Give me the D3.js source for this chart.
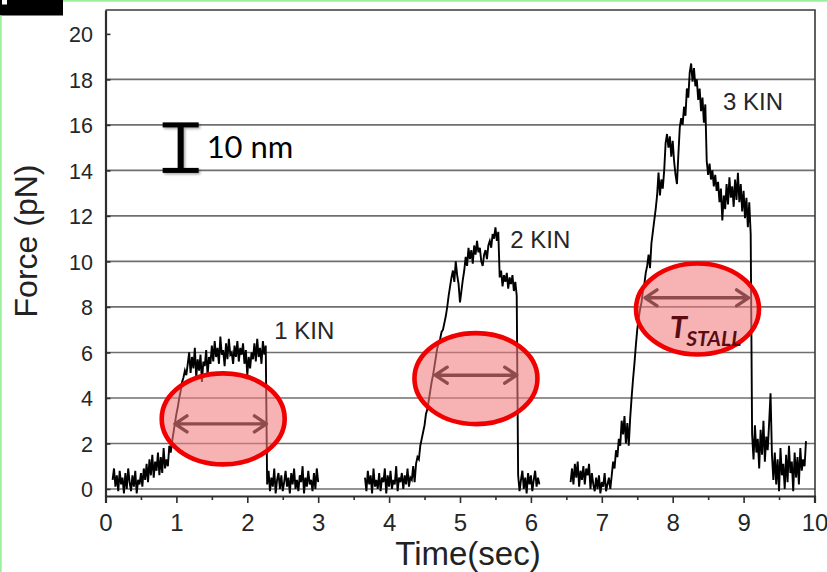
<!DOCTYPE html>
<html>
<head>
<meta charset="utf-8">
<script src="https://cdn.jsdelivr.net/npm/d3@7"></script>
<style>
  html, body { margin: 0; padding: 0; background: #ffffff; }
  svg { display: block; }
</style>
</head>
<body>
<svg id="chart" width="827" height="572"></svg>
<script>
// Optical-trap force traces: bead pulled by one, two and three kinesins (KIN).
// Each trace is sampled every timeStep seconds from its start time.
const timeStep = 0.02;

const trace1Start = 0.10;
const trace1Force = [
  0.4, 0.9, 0.1, 0.6, -0.1, 0.8, 0.2, 0.5, -0.2, 0.7, 0.0, 0.9, 0.3, -0.1, 0.6, 0.1, 0.8, -0.2, 0.4, 0.2, 0.7,
  0.1, 0.9, 0.4, 1.1, 0.3, 1.3, 0.6, 1.5, 0.5, 1.2, 0.8, 1.6, 0.6, 1.4, 0.7, 1.8, 0.9, 1.3, 1.0, 1.9,
  1.6, 2.1,
  2.5, 2.9, 3.3, 3.6, 4.0, 4.3, 4.7, 4.9, 5.2, 5.0, 5.5,
  6.0, 5.1, 5.8, 5.3, 6.2, 4.9, 5.7, 5.2, 5.9, 4.7, 5.6, 5.4, 6.1, 5.0, 5.8, 5.5,
  6.3, 5.6, 6.5, 5.8, 6.2, 5.5, 6.7, 5.9, 6.1, 5.4, 6.4, 5.7, 6.6, 5.9, 6.0, 5.5, 6.3, 5.8, 6.5, 5.6,
  6.2, 5.9, 6.4, 5.5, 6.1, 5.0, 5.8, 5.3, 6.0, 5.7, 6.4, 5.6, 6.6, 5.8, 6.2, 5.5, 6.5, 5.9, 6.3,
  0.2, 0.8, -0.1, 0.5, 0.1, 0.9, -0.2, 0.4, 0.7, 0.0, 0.6, -0.1, 0.3, 0.8, 0.1, 0.5, -0.2, 0.7, 0.2, 0.9,
  0.0, 0.4, -0.1, 0.6, 0.3, 1.0, -0.2, 0.5, 0.1, 0.8, 0.2, 0.4, -0.1, 0.7, 0.0, 0.9, 0.3
];

const trace2Start = 3.66;
const trace2Force = [
  0.5, -0.1, 0.8, 0.2, 0.6, -0.2, 0.9, 0.1, 0.4, 0.0, 0.7, -0.1, 0.5, 0.3, 0.9, -0.2, 0.6, 0.1, 0.8, 0.0,
  0.4, 0.2, 1.0, -0.1, 0.5, 0.3, 0.7, 0.0, 0.6, 0.2, 0.9, 0.1, 0.5, 0.4, 1.0, 0.3,
  1.1, 1.4, 1.3, 1.9, 2.2, 2.5, 2.8, 3.3, 3.5, 3.9, 4.3, 4.7, 5.0, 5.4, 5.8, 6.2, 6.4, 6.6, 6.9, 7.0,
  7.3, 7.6, 8.0, 8.5, 8.9, 9.3,
  9.6, 9.1, 10.0, 9.4, 9.0, 8.2, 8.7, 9.2, 9.6, 10.2, 9.8, 10.6, 10.1, 10.5, 9.9, 10.7, 10.3, 10.9,
  10.4, 10.6, 10.0, 9.8, 10.3, 10.5, 10.1, 10.7, 10.9, 10.6, 11.2, 11.0, 11.5, 10.9, 11.3,
  9.3, 9.6, 8.9, 9.4, 9.1, 9.5, 8.8, 9.3, 9.0, 9.4, 8.7, 9.1, 8.5,
  0.6, -0.1, 0.4, 0.8, 0.0, 0.5, -0.2, 0.7, 0.2, 0.6, -0.1, 0.4, 0.8, 0.1, 0.5, 0.2
];

const trace3Start = 6.56;
const trace3Force = [
  0.3, 0.9, 0.2, 1.1, 0.5, 1.2, 0.1, 0.8, 0.4, 1.0, 0.2, 0.9, 0.6, 1.1, 0.0, 0.7,
  0.2, -0.1, 0.5, 0.0, 0.6, -0.2, 0.3, 0.1, 0.7, -0.1, 0.2, 0.5, 0.0,
  0.6, 1.2, 0.9, 1.7, 1.4, 2.2, 1.9, 3.0, 2.4, 3.2, 2.0, 2.9, 1.9, 3.1, 4.0, 4.8, 5.5, 6.3, 7.0, 7.5,
  7.9, 8.2,
  8.7, 9.0, 9.5, 9.8, 10.3, 9.7, 10.8, 11.3, 11.8, 12.3, 12.9, 13.9, 12.9, 13.6, 13.2, 14.0, 15.2,
  15.6, 15.0, 15.5, 14.6, 15.3, 14.4, 13.8, 13.4, 14.7, 15.9, 16.3, 16.0, 16.8, 16.4, 17.6, 17.2,
  18.3, 18.7, 17.9, 18.5, 17.7, 18.0, 17.1, 17.6, 16.6, 17.2, 16.1, 16.9,
  14.4, 13.8, 14.3, 13.6, 14.0, 13.3, 13.8, 13.1, 13.5, 12.6, 13.2, 11.8, 12.9, 12.3, 13.4, 12.5,
  13.7, 12.8, 13.3, 12.4, 13.6, 12.7, 13.9, 12.6, 13.4, 12.2, 13.1, 11.9, 12.8, 11.5, 12.6, 11.2,
  2.4, 1.3, 2.8, 1.6, 2.2, 0.9, 2.6, 1.5, 3.0, 1.2, 2.3, 1.7, 2.9,
  4.2, 1.5,
  0.4, 1.6, 0.2, 1.3, -0.1, 1.8, 0.6, 1.1, 0.0, 1.5, 0.3, 1.9, 0.7, 1.2, -0.1, 1.6, 0.5, 1.4,
  0.2, 1.8, 0.8, 1.3, 1.0, 2.1
];

// Stall intervals (s) marked with double arrows
const stallStart = [0.98, 4.65, 7.61];
const stallEnd = [2.27, 5.80, 9.07];

const kinLabels = ["1 KIN", "2 KIN", "3 KIN"];

const xTickValues = [0, 1, 2, 3, 4, 5, 6, 7, 8, 9, 10];
const xMinorValues = [0.5, 1.5, 2.5, 3.5, 4.5, 5.5, 6.5, 7.5, 8.5, 9.5];
const yTickValues = [0, 2, 4, 6, 8, 10, 12, 14, 16, 18, 20];
const gridValues = [0, 2, 4, 6, 8, 10, 12, 14, 16, 18];

// ---------------------------------------------------------------
const svg = d3.select("#chart");
const W = 827, H = 572;
const plotL = 105.5, plotR = 815, plotT = 10, plotB = 496;

const x = d3.scaleLinear().domain([0, 10]).range([plotL, 814.5]);
const y = d3.scaleLinear().domain([-0.31, 21.05]).range([plotB, plotT]);

const ARIAL = "'Liberation Sans', Arial, Helvetica, sans-serif";
const CALIBRI = "Lato, 'Open Sans', sans-serif";

svg.append("rect").attr("width", W).attr("height", H).attr("fill", "#ffffff");

const defs = svg.append("defs");
defs.append("filter").attr("id", "soft").attr("x", "-20%").attr("y", "-50%").attr("width", "140%").attr("height", "200%")
  .append("feGaussianBlur").attr("stdDeviation", 0.7);
const shadow = defs.append("filter").attr("id", "shadow").attr("x", "-30%").attr("y", "-30%").attr("width", "160%").attr("height", "160%");
shadow.append("feDropShadow").attr("dx", 1.5).attr("dy", 1.5).attr("stdDeviation", 1.2).attr("flood-color", "#000").attr("flood-opacity", 0.35);

// horizontal grid
svg.append("g").selectAll("line").data(gridValues).join("line")
  .attr("x1", plotL).attr("x2", plotR)
  .attr("y1", d => y(d)).attr("y2", d => y(d))
  .attr("stroke", "#6f6f6f").attr("stroke-width", 1.6);

// frame (top and right)
svg.append("path")
  .attr("d", `M${plotL},${plotT}H${plotR}V${plotB}`)
  .attr("fill", "none").attr("stroke", "#3a3a3a").attr("stroke-width", 1.6);

// x axis with major and minor ticks
const xAxis = svg.append("g").attr("transform", `translate(0,${plotB})`)
  .call(d3.axisBottom(x).tickValues(xTickValues).tickSize(7).tickPadding(11).tickFormat(d3.format("d")));
svg.append("g").attr("transform", `translate(0,${plotB})`)
  .call(d3.axisBottom(x).tickValues(xMinorValues).tickSize(4).tickFormat(""))
  .call(g => g.select(".domain").remove());

// y axis
const yAxis = svg.append("g").attr("transform", `translate(${plotL},0)`)
  .call(d3.axisLeft(y).tickValues(yTickValues).tickSizeInner(-5).tickSizeOuter(0).tickPadding(12.5));

svg.selectAll(".domain").attr("stroke", "#2e2e2e").attr("stroke-width", 2.2);
svg.selectAll(".tick line").attr("stroke", "#2e2e2e").attr("stroke-width", 1.6);
xAxis.selectAll("text").attr("font-family", ARIAL).attr("font-size", 24).attr("fill", "#262626");
yAxis.selectAll("text").attr("font-family", ARIAL).attr("font-size", 21.5).attr("fill", "#262626").attr("dy", "0.37em");

// force traces
const line = d3.line().x(d => x(d.t)).y(d => y(d.f));
const traces = [[trace1Start, trace1Force], [trace2Start, trace2Force], [trace3Start, trace3Force]];
svg.append("g").selectAll("path")
  .data(traces.map(([t0, vals]) => vals.map((f, i) => ({ t: t0 + i * timeStep, f }))))
  .join("path")
  .attr("d", line)
  .attr("fill", "none").attr("stroke", "#000").attr("stroke-width", 1.9)
  .attr("stroke-linejoin", "miter");

// highlighted stall regions
const ovalCentres = [[1.66, 3.08], [5.225, 4.85], [8.35, 7.91]];
const arrowLevels = [2.86, 5.0, 8.4];
svg.append("g").selectAll("ellipse").data(ovalCentres).join("ellipse")
  .attr("cx", d => x(d[0])).attr("cy", d => y(d[1]))
  .attr("rx", 61.5).attr("ry", 45.5)
  .attr("fill", "#f27c7c").attr("fill-opacity", 0.58)
  .attr("stroke", "#f00000").attr("stroke-width", 4.6);

const arrows = svg.append("g").attr("filter", "url(#soft)")
  .attr("stroke", "#8e4c4c").attr("stroke-width", 3.4).attr("fill", "none")
  .attr("stroke-linecap", "round").attr("stroke-linejoin", "round");
stallStart.forEach((s, i) => {
  const x1 = x(s), x2 = x(stallEnd[i]), yy = y(arrowLevels[i]);
  arrows.append("path").attr("d",
    `M${x1},${yy}H${x2}` +
    `M${x1 + 12},${yy - 8}L${x1},${yy}L${x1 + 12},${yy + 8}` +
    `M${x2 - 12},${yy - 8}L${x2},${yy}L${x2 - 12},${yy + 8}`);
});

// kinesin count labels
const kinAnchors = [[2.38, 6.6], [5.71, 10.6], [8.71, 16.66]];
svg.append("g").selectAll("text").data(kinLabels).join("text")
  .attr("x", (d, i) => x(kinAnchors[i][0])).attr("y", (d, i) => y(kinAnchors[i][1]))
  .attr("font-family", ARIAL).attr("font-size", 24).attr("fill", "#262626")
  .text(d => d);

// T_STALL label
const tl = svg.append("text")
  .attr("x", x(7.96)).attr("y", y(6.65))
  .attr("font-family", CALIBRI).attr("font-style", "italic").attr("font-weight", 700)
  .attr("fill", "#5a0c12");
tl.append("tspan").attr("font-size", 31).text("T");
tl.append("tspan").attr("font-size", 21).attr("dy", 8).attr("dx", -1).text("STALL");

// 10 nm scale bar
const barX = x(1.06), barTop = y(16), barBot = y(14);
const bar = svg.append("g").attr("filter", "url(#shadow)").attr("fill", "#000");
bar.append("rect").attr("x", barX - 3).attr("y", barTop).attr("width", 6).attr("height", barBot - barTop);
bar.append("rect").attr("x", barX - 18).attr("y", barTop - 2.5).attr("width", 36).attr("height", 5);
bar.append("rect").attr("x", barX - 18).attr("y", barBot - 2.5).attr("width", 36).attr("height", 5);
svg.append("text").attr("x", barX + 26).attr("y", 158)
  .attr("font-family", CALIBRI).attr("font-size", 31).attr("fill", "#000").text("10 nm");

// axis titles
svg.append("text")
  .attr("transform", `translate(37,241) rotate(-90)`)
  .attr("text-anchor", "middle")
  .attr("font-family", ARIAL).attr("font-size", 32).attr("fill", "#222")
  .text("Force (pN)");
svg.append("text")
  .attr("x", 468).attr("y", 565).attr("text-anchor", "middle")
  .attr("font-family", ARIAL).attr("font-size", 33).attr("fill", "#222")
  .text("Time(sec)");

// panel tab and slide border
svg.append("rect").attr("x", 0).attr("y", 0).attr("width", 63).attr("height", 15.5).attr("fill", "#000");
svg.append("rect").attr("x", 2).attr("y", 0).attr("width", 5).attr("height", 4.5).attr("fill", "#fff");
svg.append("path").attr("d", `M0.8,15.5V${H}M63,0.8H${W}`)
  .attr("stroke", "#9cf09c").attr("stroke-width", 1.8).attr("fill", "none");
</script>
</body>
</html>
